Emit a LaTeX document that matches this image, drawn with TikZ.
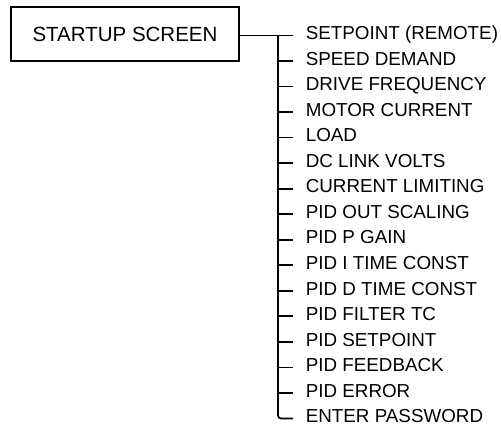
\documentclass[tikz,border=0pt]{standalone}
\usepackage{fontspec}
\setmainfont{Liberation Sans}
\begin{document}
\begin{tikzpicture}[x=1pt,y=-1pt,
  line width=1.7pt,
  titlebox/.style={draw, minimum width=228pt, minimum height=54pt, inner sep=0pt, font=\fontsize{20.5}{23}\selectfont},
  item/.style={anchor=west, inner sep=0pt, font=\fontsize{18.8}{21}\selectfont}]
\useasboundingbox (0,0) rectangle (501,432);
\node[titlebox] (title) at (125,34) {STARTUP SCREEN};
\coordinate (trunk) at (278,35.5);
\foreach \t [count=\i from 0] in {SETPOINT (REMOTE),SPEED DEMAND,DRIVE FREQUENCY,MOTOR CURRENT,LOAD,DC LINK VOLTS,CURRENT LIMITING,PID OUT SCALING,PID P GAIN,PID I TIME CONST,PID D TIME CONST,PID FILTER TC,PID SETPOINT,PID FEEDBACK,PID ERROR,ENTER PASSWORD}{
  \node[item] (n\i) at (305,35.5+25.53*\i) {\strut\t};
  \coordinate (t\i) at (293,35.5+25.53*\i);
  \coordinate (b\i) at (278,35.5+25.53*\i);
}
\draw (title.east |- trunk) -- (t0);
\foreach \i in {1,...,14}{ \draw (b\i) -- (t\i); }
\draw[rounded corners=3pt] (trunk) -- (b15) -- (t15);
\end{tikzpicture}
\end{document}
